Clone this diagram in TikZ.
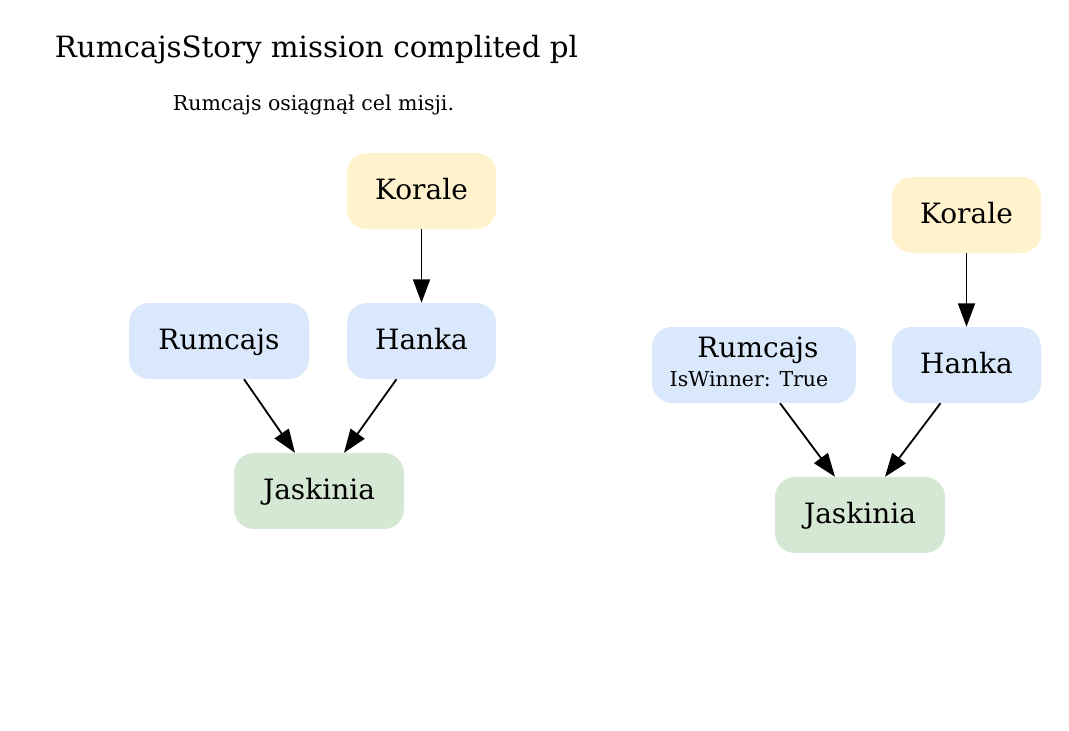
\documentclass[tikz,border=0pt]{standalone}
\usepackage{fontspec}
\setmainfont{DejaVu Serif}
\usetikzlibrary{arrows.meta}
\definecolor{cyellow}{HTML}{FFF2CC}
\definecolor{cblue}{HTML}{DAE8FC}
\definecolor{cgreen}{HTML}{D5E8D4}
\tikzset{
  box/.style={rounded corners=20pt, minimum height=76pt, inner sep=0pt,
    text height=21pt, text depth=5pt, font=\fontsize{28}{33}\selectfont},
  yel/.style={box, fill=cyellow},
  blu/.style={box, fill=cblue},
  grn/.style={box, fill=cgreen},
  conn/.style={line width=1.8pt, -{Triangle[length=23.5pt,width=17pt]}},
  small/.style={font=\fontsize{20.5}{24}\selectfont, inner sep=0pt, anchor=base},
}
\begin{document}
\begin{tikzpicture}[x=1pt,y=-1pt]
\useasboundingbox (0,0) rectangle (1069,731);
\node[anchor=base, inner sep=0pt, font=\fontsize{29.3}{34}\selectfont] (title) at (316.5,57) {RumcajsStory mission complited pl};
\node[small] (sub) at (313.5,110) {Rumcajs osiągnął cel misji.};
% left graph
\node[yel, minimum width=149pt] (k1) at (421.5,191) {Korale};
\node[blu, minimum width=180pt] (r1) at (219,341) {Rumcajs};
\node[blu, minimum width=149pt] (h1) at (421.5,341) {Hanka};
\node[grn, minimum width=170pt] (j1) at (319,491) {Jaskinia};
\draw[conn] (k1.south) -- (h1.north);
\draw[conn] ([xshift=25pt]r1.south) -- ([xshift=-24pt]j1.north);
\draw[conn] ([xshift=-25pt]h1.south) -- ([xshift=25pt]j1.north);
% right graph
\node[yel, minimum width=149pt] (k2) at (966.5,215) {Korale};
\node[blu, minimum width=204pt] (r2) at (754,365) {};
\node[anchor=base, inner sep=0pt, font=\fontsize{28}{33}\selectfont] (r2a) at (758,357) {Rumcajs};
\node[small] (r2b) at (749,386) {IsWinner: True};
\node[blu, minimum width=149pt] (h2) at (966.5,365) {Hanka};
\node[grn, minimum width=170pt] (j2) at (860,515) {Jaskinia};
\draw[conn] (k2.south) -- (h2.north);
\draw[conn] ([xshift=26pt]r2.south) -- ([xshift=-25pt]j2.north);
\draw[conn] ([xshift=-26pt]h2.south) -- ([xshift=25pt]j2.north);
\end{tikzpicture}
\end{document}
